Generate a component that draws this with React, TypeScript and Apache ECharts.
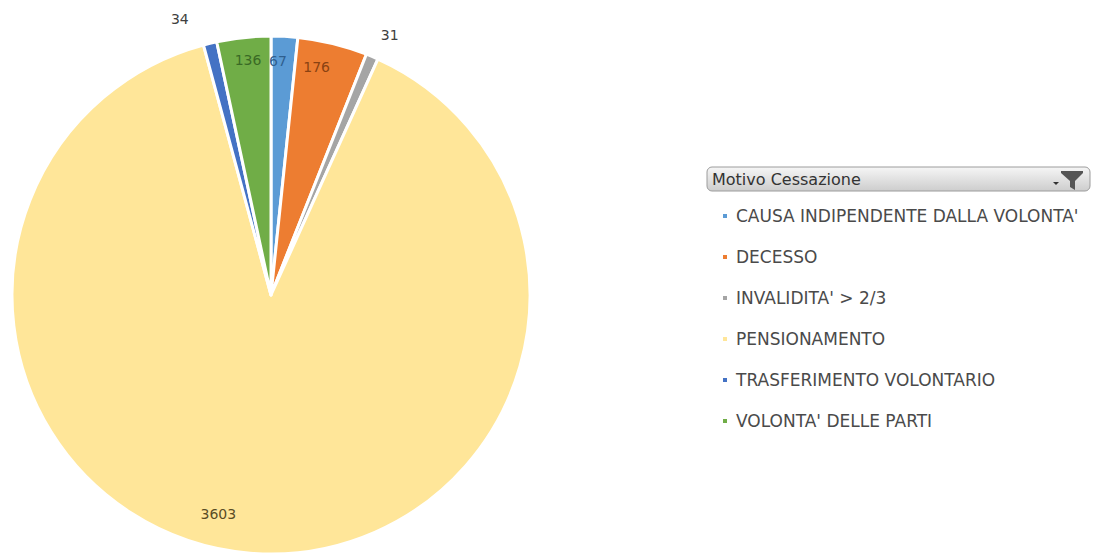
import React, { useEffect, useRef } from "react";
import * as echarts from "echarts";

const categories = [
  "CAUSA INDIPENDENTE DALLA VOLONTA'",
  "DECESSO",
  "INVALIDITA' > 2/3",
  "PENSIONAMENTO",
  "TRASFERIMENTO VOLONTARIO",
  "VOLONTA' DELLE PARTI",
];
const values = [67, 176, 31, 3603, 34, 136];
const colors = ["#5B9BD5", "#ED7D31", "#A5A5A5", "#FFE699", "#4472C4", "#70AD47"];
const labelColors = ["#2f5f8f", "#8a4212", "#404040", "#5a4c25", "#404040", "#3a6a25"];
const labelOffsets: number[][] = [
  [0, -102],
  [14, -99],
  [67, -138],
  [-42, 87],
  [-60, -147],
  [-9, -103],
];

const FONT = "DejaVu Sans";

export default function App() {
  const ref = useRef<HTMLDivElement>(null);
  useEffect(() => {
    document.body.style.margin = "0";
    const chart = echarts.init(ref.current!, null, { renderer: "svg" });
    const data = categories.map((name, i) => ({
      name,
      value: values[i],
      itemStyle: { color: colors[i] },
      label: { color: labelColors[i], offset: labelOffsets[i] },
    }));
    chart.setOption({
      animation: false,
      backgroundColor: "#ffffff",
      legend: {
        orient: "vertical",
        left: 716,
        top: 200,
        icon: "rect",
        itemWidth: 6,
        itemHeight: 6,
        itemGap: 19,
        selectedMode: false,
        textStyle: {
          color: "#4a4a4a",
          fontFamily: FONT,
          fontSize: 17,
          lineHeight: 22,
          padding: [0, 0, 0, 3],
        },
        data: categories,
      },
      graphic: [
        {
          type: "rect",
          shape: { x: 707, y: 167, width: 383, height: 24, r: 5 },
          style: {
            fill: new echarts.graphic.LinearGradient(0, 0, 0, 1, [
              { offset: 0, color: "#f6f6f6" },
              { offset: 1, color: "#cdcdcd" },
            ]),
            stroke: "#9c9c9c",
            lineWidth: 1,
          },
        },
        {
          type: "text",
          x: 712,
          y: 179,
          style: {
            text: "Motivo Cessazione",
            fill: "#333333",
            font: `16px "${FONT}"`,
            verticalAlign: "middle",
          },
        },
        {
          type: "polygon",
          shape: {
            points: [
              [1061, 171],
              [1083, 171],
              [1083, 173],
              [1075, 181],
              [1075, 190],
              [1070, 187],
              [1070, 181],
              [1061, 173],
            ],
          },
          style: { fill: "#555555" },
        },
        {
          type: "polygon",
          shape: { points: [[1053, 182], [1059, 182], [1056, 185]] },
          style: { fill: "#333333" },
        },
      ],
      series: [
        {
          type: "pie",
          center: [271, 295],
          radius: 259,
          startAngle: 90,
          clockwise: true,
          avoidLabelOverlap: false,
          itemStyle: { borderColor: "#ffffff", borderWidth: 3 },
          label: {
            show: true,
            position: "inside",
            formatter: "{c}",
            fontFamily: FONT,
            fontSize: 14,
          },
          labelLine: { show: false },
          emphasis: { disabled: true },
          data,
        },
      ],
    });
    return () => chart.dispose();
  }, []);
  return <div ref={ref} style={{ width: 1094, height: 554 }} />;
}
